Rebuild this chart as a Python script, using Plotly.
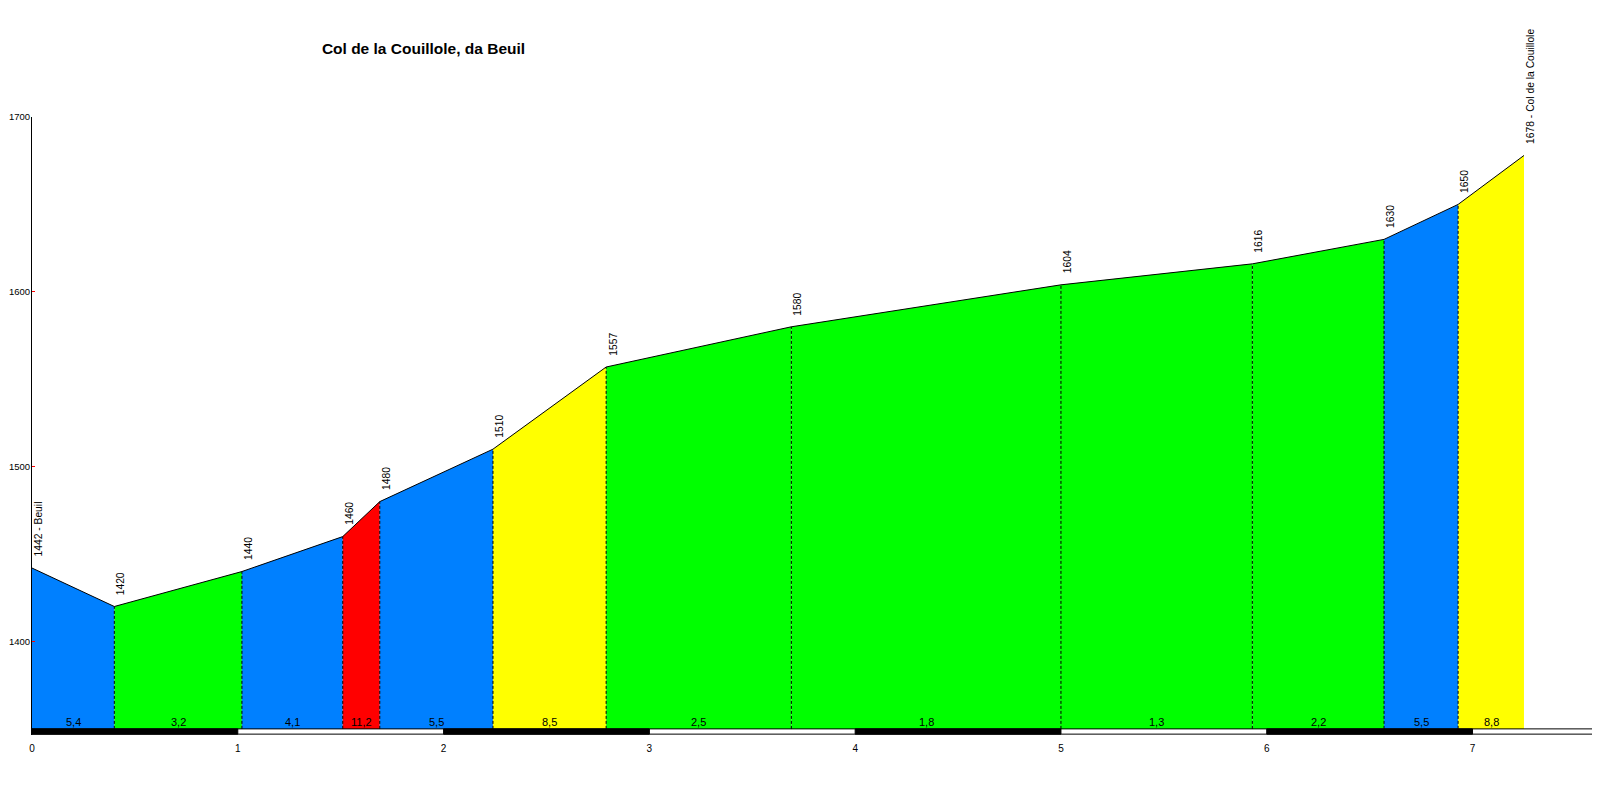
import plotly.graph_objects as go

# profile data: cumulative km, altitude (m), grade of each segment and its colour
distances = [0, 0.40, 1.02, 1.51, 1.69, 2.24, 2.79, 3.69, 5.00, 5.93, 6.57, 6.93, 7.25]
altitudes = [1442, 1420, 1440, 1460, 1480, 1510, 1557, 1580, 1604, 1616, 1630, 1650, 1678]
point_labels = ['1442 - Beuil', '1420', '1440', '1460', '1480', '1510', '1557',
                '1580', '1604', '1616', '1630', '1650', '1678 - Col de la Couillole']
grades = ['5,4', '3,2', '4,1', '11,2', '5,5', '8,5', '2,5', '1,8', '1,3', '2,2', '5,5', '8,8']
grade_colors = ['#0080FF', '#00FF00', '#0080FF', '#FF0000', '#0080FF', '#FFFF00',
                '#00FF00', '#00FF00', '#00FF00', '#00FF00', '#0080FF', '#FFFF00']
km_ticks = [0, 1, 2, 3, 4, 5, 6, 7]
alt_ticks = [1400, 1500, 1600, 1700]

BASE = 1350
BAND = 3
X_MAX = 7.6
FONT = 'Arial, Liberation Sans, sans-serif'
W, H = 1592, 792  # page body keeps its 8px margin

fig = go.Figure()

# coloured segments
for i in range(len(grades)):
    x0, x1 = distances[i], distances[i + 1]
    fig.add_trace(go.Scatter(
        x=[x0, x0, x1, x1, x0],
        y=[BASE, altitudes[i], altitudes[i + 1], BASE, BASE],
        mode='lines',
        fill='toself',
        fillcolor=grade_colors[i],
        line=dict(width=0),
        showlegend=False,
        hoverinfo='skip'
    ))

# dashed separators
dx, dy = [], []
for d, a in zip(distances[1:-1], altitudes[1:-1]):
    dx += [d, d, None]
    dy += [BASE, a, None]
fig.add_trace(go.Scatter(
    x=dx, y=dy, mode='lines',
    line=dict(color='black', width=1, dash='3px,2px'),
    showlegend=False, hoverinfo='skip'
))

# profile outline
fig.add_trace(go.Scatter(
    x=distances, y=altitudes, mode='lines',
    line=dict(color='black', width=1),
    showlegend=False, hoverinfo='skip'
))

# km scale band under the profile
fig.add_shape(type='rect', x0=0, x1=X_MAX, y0=BASE - BAND, y1=BASE,
              fillcolor='white', line=dict(color='black', width=1))
for k in km_ticks:
    if k % 2 == 0:
        fig.add_shape(type='rect', x0=k, x1=min(k + 1, X_MAX), y0=BASE - BAND, y1=BASE,
                      fillcolor='black', line=dict(color='black', width=1))

# altitude labels
for d, a, t in zip(distances, altitudes, point_labels):
    fig.add_annotation(x=d, y=a, text=t, textangle=-90, showarrow=False,
                       xanchor='left', yanchor='bottom', yshift=9.5, xshift=-1,
                       font=dict(family=FONT, size=10.3, color='black'))

# grade labels
for i, g in enumerate(grades):
    fig.add_annotation(x=(distances[i] + distances[i + 1]) / 2, y=BASE, text=g,
                       showarrow=False, yanchor='bottom', yshift=-1,
                       font=dict(family=FONT, size=11, color='black'))

fig.update_layout(
    width=W, height=H,
    title=dict(text='<b>Col de la Couillole, da Beuil</b>', x=415.5 / W, y=1 - 41 / H,
               xanchor='center', yanchor='middle', xref='container', yref='container',
               font=dict(family=FONT, size=15.5, color='black')),
    margin=dict(l=24, r=4, t=109, b=65),
    plot_bgcolor='white', paper_bgcolor='white',
    xaxis=dict(range=[0, X_MAX], tickvals=km_ticks, showgrid=False, zeroline=False,
               showline=False, ticks='', ticklabelstandoff=6, automargin=False,
               tickfont=dict(family=FONT, size=10, color='black')),
    yaxis=dict(range=[BASE - BAND - 0.5, 1700], tickvals=alt_ticks, showgrid=False,
               zeroline=False, showline=True, linecolor='black', linewidth=1,
               ticks='inside', tickcolor='red', ticklen=3, tickwidth=1, automargin=False,
               ticklabelstandoff=-1,
               tickfont=dict(family=FONT, size=9.5, color='black')),
    showlegend=False
)

fig.write_html('out.html')
